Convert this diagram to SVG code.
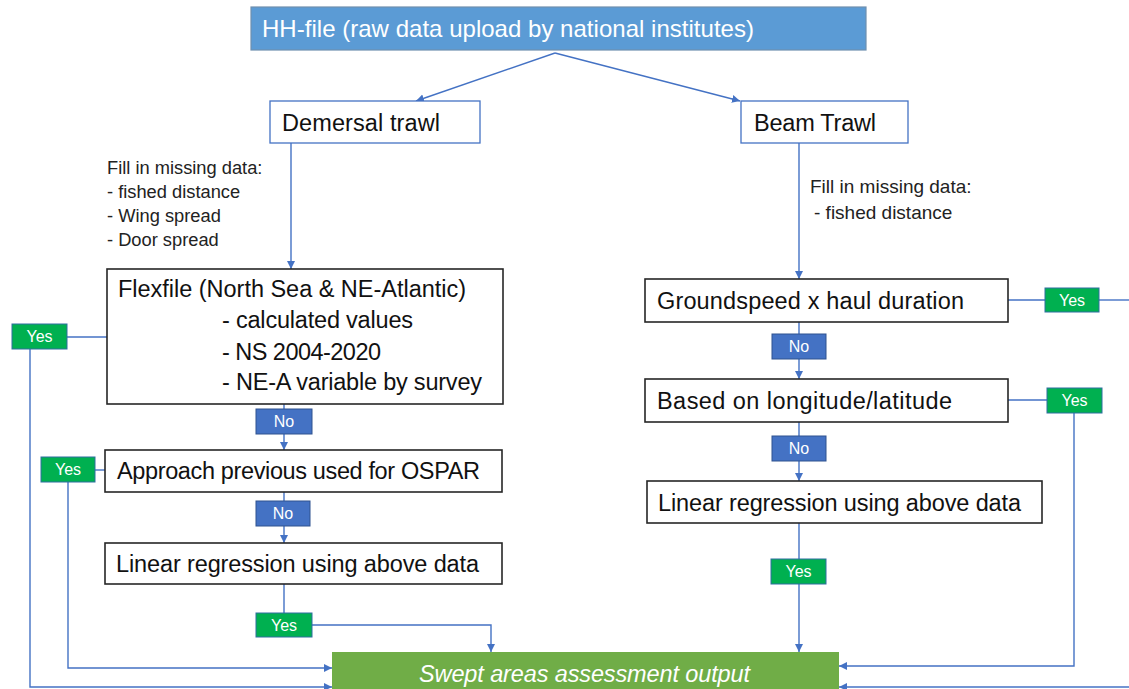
<svg xmlns="http://www.w3.org/2000/svg" width="1129" height="689" viewBox="0 0 1129 689">
<defs>
<marker id="arr" markerUnits="userSpaceOnUse" markerWidth="9" markerHeight="9" refX="8" refY="4" orient="auto">
<path d="M0,0 L8,4 L0,8 z" fill="#4472C4"/>
</marker>
<style>
.box{fill:#fff;stroke:#262626;stroke-width:1.6}
.bbox{fill:#fff;stroke:#4472C4;stroke-width:1.3}
.t{font-family:"Liberation Sans",Arial,sans-serif;font-size:23.5px;fill:#111}
.ft{font-family:"Liberation Sans",Arial,sans-serif;font-size:18.3px;fill:#222}
.yes{fill:#00B050;stroke:#2F6E9F;stroke-width:1}
.no{fill:#4472C4;stroke:#2F528F;stroke-width:1}
.lt{font-family:"Liberation Sans",Arial,sans-serif;font-size:16px;fill:#fff;text-anchor:middle}
.c{fill:none;stroke:#4472C4;stroke-width:1.4}
</style>
</defs>
<rect width="1129" height="689" fill="#fff"/>

<g id="connectors">
<path class="c" d="M555,53 L416,101" marker-end="url(#arr)"/>
<path class="c" d="M555,53 L740,101" marker-end="url(#arr)"/>
<path class="c" d="M291,143 L291,269" marker-end="url(#arr)"/>
<path class="c" d="M284,404 L284,409"/>
<path class="c" d="M284,434 L284,450" marker-end="url(#arr)"/>
<path class="c" d="M284,492 L284,501"/>
<path class="c" d="M284,526 L284,543" marker-end="url(#arr)"/>
<path class="c" d="M284,584 L284,613"/>
<path class="c" d="M312,625 L491,625 L491,652" marker-end="url(#arr)"/>
<path class="c" d="M107,337 L67,337"/>
<path class="c" d="M30,349 L30,687 L332,687" marker-end="url(#arr)"/>
<path class="c" d="M105,470 L95,470"/>
<path class="c" d="M68,482 L68,668 L332,668" marker-end="url(#arr)"/>
<path class="c" d="M799,143 L799,279" marker-end="url(#arr)"/>
<path class="c" d="M799,322 L799,334"/>
<path class="c" d="M799,359 L799,379" marker-end="url(#arr)"/>
<path class="c" d="M799,422 L799,436"/>
<path class="c" d="M799,461 L799,481" marker-end="url(#arr)"/>
<path class="c" d="M799,523 L799,559"/>
<path class="c" d="M799,584 L799,652" marker-end="url(#arr)"/>
<path class="c" d="M1008,300 L1045,300"/>
<path class="c" d="M1099,300 L1129,300"/>
<path class="c" d="M1008,400 L1047,400"/>
<path class="c" d="M1074,413 L1074,666 L839,666" marker-end="url(#arr)"/>
<path class="c" d="M1129,687 L839,687" marker-end="url(#arr)"/>
</g>

<g id="hh">
<rect x="251" y="7" width="615" height="43" fill="#5B9BD5" stroke="#6F8FAF" stroke-width="1.2"/>
<text class="t" x="262" y="37" font-size="24" fill="#fff" style="fill:#fff;font-size:24px" textLength="492">HH-file (raw data upload by national institutes)</text>
</g>

<g id="demersal">
<rect class="bbox" x="270" y="101" width="210" height="42"/>
<text class="t" x="282" y="131" textLength="158">Demersal trawl</text>
</g>

<g id="beam">
<rect class="bbox" x="741" y="101" width="167" height="42"/>
<text class="t" x="754" y="131" textLength="122">Beam Trawl</text>
</g>

<g id="fill-left">
<text class="ft" x="107" y="174">Fill in missing data:</text>
<text class="ft" x="107" y="198">- fished distance</text>
<text class="ft" x="107" y="222">- Wing spread</text>
<text class="ft" x="107" y="246">- Door spread</text>
</g>

<g id="fill-right">
<text class="ft" x="810" y="193" style="font-size:19px">Fill in missing data:</text>
<text class="ft" x="814" y="219" style="font-size:19px">- fished distance</text>
</g>

<g id="flexfile">
<rect class="box" x="107" y="269" width="396" height="135"/>
<text class="t" x="118" y="297" textLength="348">Flexfile (North Sea &amp; NE-Atlantic)</text>
<text class="t" x="222" y="328" textLength="191">- calculated values</text>
<text class="t" x="222" y="360" textLength="159">- NS 2004-2020</text>
<text class="t" x="222" y="390" textLength="260">- NE-A variable by survey</text>
</g>

<g id="approach">
<rect class="box" x="105" y="450" width="397" height="42"/>
<text class="t" x="117" y="479" textLength="363">Approach previous used for OSPAR</text>
</g>

<g id="linreg-left">
<rect class="box" x="105" y="543" width="397" height="41"/>
<text class="t" x="116" y="572" textLength="363">Linear regression using above data</text>
</g>

<g id="groundspeed">
<rect class="box" x="645" y="279" width="363" height="43"/>
<text class="t" x="657" y="309" textLength="307">Groundspeed x haul duration</text>
</g>

<g id="based">
<rect class="box" x="645" y="379" width="363" height="43"/>
<text class="t" x="657" y="409" textLength="295">Based on longitude/latitude</text>
</g>

<g id="linreg-right">
<rect class="box" x="647" y="481" width="395" height="42"/>
<text class="t" x="658" y="511" textLength="363">Linear regression using above data</text>
</g>

<g id="swept">
<rect x="332" y="652" width="507" height="50" fill="#70AD47"/>
<text class="t" x="419" y="682" style="fill:#fff;font-style:italic" textLength="331">Swept areas assessment output</text>
</g>

<g id="yes-l1"><rect class="yes" x="12" y="324" width="55" height="25"/><text class="lt" x="39.5" y="342">Yes</text></g>
<g id="yes-l2"><rect class="yes" x="41" y="457" width="54" height="25"/><text class="lt" x="68" y="475">Yes</text></g>
<g id="no-l1"><rect class="no" x="256" y="409" width="56" height="25"/><text class="lt" x="284" y="427">No</text></g>
<g id="no-l2"><rect class="no" x="256" y="501" width="54" height="25"/><text class="lt" x="283" y="519">No</text></g>
<g id="yes-l3"><rect class="yes" x="256" y="613" width="56" height="24"/><text class="lt" x="284" y="631">Yes</text></g>
<g id="yes-r1"><rect class="yes" x="1045" y="288" width="54" height="24"/><text class="lt" x="1072" y="306">Yes</text></g>
<g id="no-r1"><rect class="no" x="772" y="334" width="54" height="25"/><text class="lt" x="799" y="352">No</text></g>
<g id="yes-r2"><rect class="yes" x="1047" y="388" width="55" height="25"/><text class="lt" x="1074.5" y="406">Yes</text></g>
<g id="no-r2"><rect class="no" x="772" y="436" width="54" height="25"/><text class="lt" x="799" y="454">No</text></g>
<g id="yes-r3"><rect class="yes" x="771" y="559" width="55" height="25"/><text class="lt" x="798.5" y="577">Yes</text></g>
</svg>
